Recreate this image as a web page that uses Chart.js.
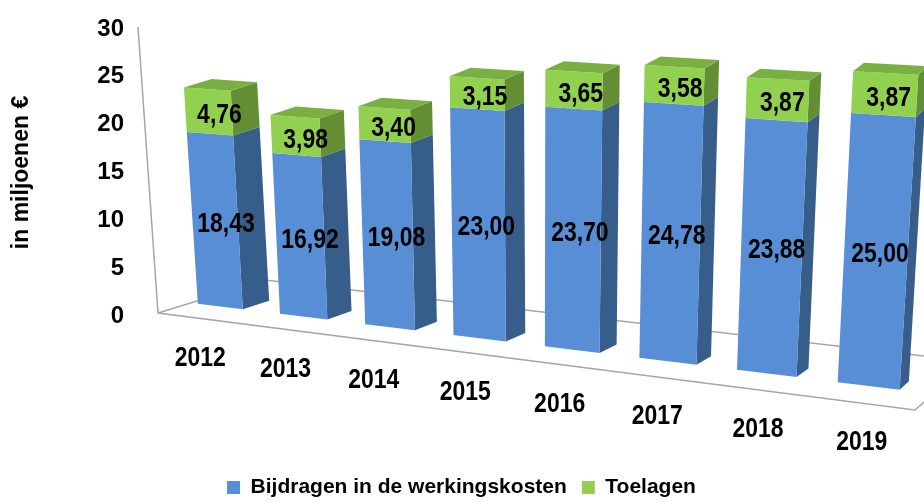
<!DOCTYPE html>
<html>
<head>
<meta charset="utf-8">
<script src="https://cdn.jsdelivr.net/npm/chart.js@4.4.0/dist/chart.umd.min.js"></script>
<style>
  html,body{margin:0;padding:0;background:#fff;}
  canvas{display:block;}
</style>
</head>
<body>
<canvas id="chart" width="924" height="502"></canvas>
<script>
//Data
const years = ['2012','2013','2014','2015','2016','2017','2018','2019'];
const bijdragen = [18.43,16.92,19.08,23.00,23.70,24.78,23.88,25.00];
const toelagen = [4.76,3.98,3.40,3.15,3.65,3.58,3.87,3.87];
const yTicks = [0,5,10,15,20,25,30];

const FONT = "'Liberation Sans',Arial,sans-serif";

//colours: front, side, top
const blue = ['#588ED5','#375D8B','#4A76B4'];
const green = ['#92D050','#638E33','#7AB042'];

const fmt = v => v.toFixed(2).replace('.',',');

//arial narrow is not there, so squeeze the text a bit
const narrowText = (ctx,txt,x,y) => {
  ctx.save();
  ctx.translate(x,y);
  ctx.scale(0.82,1);
  ctx.fillText(txt,0,0);
  ctx.restore();
};

//fake 3D: bars are taken from chart.js elements and pushed through a perspective
const threeD = {
  id:'threeD',
  beforeDatasetsDraw(chart){
    const ctx = chart.ctx;
    const ys = chart.scales.y;
    const area = chart.chartArea;
    const unit = (ys.bottom - ys.top)/(ys.max - ys.min);
    const bars0 = chart.getDatasetMeta(0).data;
    const first = bars0[0].x, last = bars0[bars0.length-1].x, span = last-first;

    const floorY = X => ys.bottom - 9.5 + (X-first)*0.1225;
    const P = (X0,h,d) => {
      const tt = (X0-first)/span;
      const vx = -0.56 + 1.15*tt;
      const vy = unit*(0.98 + 0.153*tt);
      const dx = 27 - 17*tt;
      return [X0 + vx*h + dx*d, floorY(X0) - vy*h - 8.5*d];
    };
    const poly = (pts,col) => {
      ctx.beginPath();
      ctx.moveTo(pts[0][0],pts[0][1]);
      for(let i=1;i<pts.length;i++) ctx.lineTo(pts[i][0],pts[i][1]);
      ctx.closePath();
      ctx.fillStyle = col;
      ctx.fill();
    };

    ctx.save();
    //floor and axis
    ctx.strokeStyle = '#A6A6A6';
    ctx.lineWidth = 1.5;
    ctx.beginPath();
    ctx.moveTo(area.left-36, area.top-2);
    ctx.lineTo(area.left-16, ys.bottom-3);
    ctx.lineTo(area.right, ys.bottom+94);
    ctx.lineTo(area.right+9, ys.bottom+86);
    ctx.moveTo(area.left-16, ys.bottom-3);
    ctx.lineTo(area.left+91, ys.bottom-36);
    ctx.lineTo(area.right+9, ys.bottom+40);
    ctx.stroke();

    const labels = [];
    const metas = [chart.getDatasetMeta(0), chart.getDatasetMeta(1)];
    const cols = [blue, green];
    for(let i=0;i<bars0.length;i++){
      const t = (bars0[i].x-first)/span;
      const xc = bars0[i].x - 0.117*span*t*(1-t);
      for(let k=0;k<metas.length;k++){
        const el = metas[k].data[i];
        const h0 = (ys.bottom-el.base)/unit;
        const h1 = (ys.bottom-el.y)/unit;
        const half = el.width*(1+0.38*t)/2;
        const xl = xc-half, xr = xc+half;
        const c = cols[k];
        poly([P(xr,h0,0),P(xr,h0,1),P(xr,h1,1),P(xr,h1,0)], c[1]);
        poly([P(xl,h0,0),P(xr,h0,0),P(xr,h1,0),P(xl,h1,0)], c[0]);
        if(k==metas.length-1){
          poly([P(xl,h1,0),P(xr,h1,0),P(xr,h1,1),P(xl,h1,1)], c[2]);
        }
        const hm = (h0+h1)/2;
        const p = P(xc,hm,0);
        const dx = 27 - 17*t;
        labels.push([fmt(chart.data.datasets[k].data[i]), p[0]+dx*0.4, p[1]+4]);
      }
      const b = P(xc,0,0);
      labels.push([chart.data.labels[i], b[0]-20+13*t, b[1]+52+4*t]);
    }

    ctx.fillStyle = '#000';
    ctx.textAlign = 'center';
    ctx.textBaseline = 'middle';
    ctx.font = 'bold 28px ' + FONT;
    labels.forEach(l => narrowText(ctx, l[0], l[1], l[2]));
    ctx.restore();
    return false;
  }
};

const chart = new Chart(document.getElementById('chart'), {
  type:'bar',
  data:{
    labels: years,
    datasets:[
      {label:'Bijdragen in de werkingskosten', data:bijdragen, backgroundColor:blue[0], borderWidth:0},
      {label:'Toelagen', data:toelagen, backgroundColor:green[0], borderWidth:0}
    ]
  },
  options:{
    responsive:false,
    animation:false,
    barPercentage:1,
    categoryPercentage:0.485,
    layout:{padding:{left:8, top:29, right:9, bottom:-6}},
    scales:{
      x:{
        stacked:true,
        grid:{display:false},
        border:{display:false},
        ticks:{display:false},
        afterFit(s){ s.height = 146; }
      },
      y:{
        stacked:true,
        min:0, max:30,
        afterBuildTicks(s){ s.ticks = yTicks.map(v => ({value:v})); },
        grid:{display:false, drawTicks:true, tickLength:44},
        border:{display:false},
        ticks:{padding:6, color:'#000', font:{family:FONT, size:24, weight:'bold'}},
        title:{display:true, text:'in miljoenen €', color:'#000', padding:0, font:{family:FONT, size:23, weight:'bold'}},
        afterFit(s){ s.width = 166; }
      }
    },
    plugins:{
      legend:{
        position:'bottom',
        labels:{boxWidth:13, boxHeight:13, padding:15, color:'#000', font:{family:FONT, size:21, weight:'bold'}}
      },
      tooltip:{enabled:false}
    }
  },
  plugins:[threeD]
});
</script>
</body>
</html>
